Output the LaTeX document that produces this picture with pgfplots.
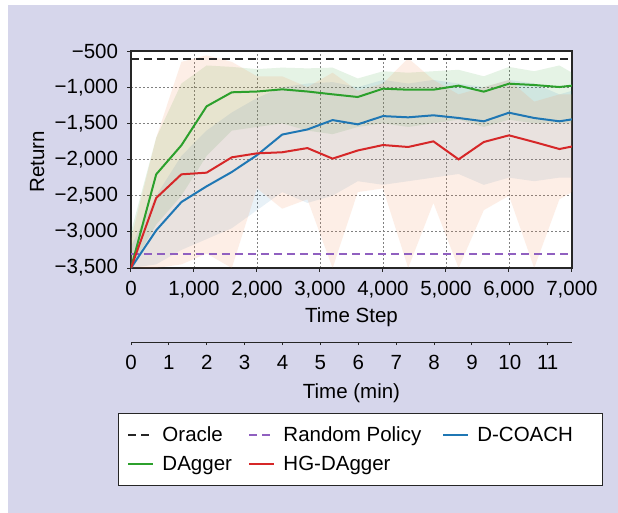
\documentclass[border=0pt]{standalone}
\usepackage{pgfplots}
\pgfplotsset{compat=1.18}
\usepackage{pgfplotstable}
\usepackage{fontspec}
\setmainfont{Liberation Sans}
\definecolor{lav}{HTML}{D6D6EB}
\definecolor{cblue}{HTML}{1F77B4}
\definecolor{cgreen}{HTML}{2CA02C}
\definecolor{cred}{HTML}{D62728}
\definecolor{cpurp}{HTML}{9060C0}
\definecolor{cpeach}{HTML}{F5894F}
\newcommand{\fs}{\fontsize{20.5bp}{24bp}\selectfont}

% mean curves
\pgfplotstableread{
x    g      b      r
0    -3500  -3500  -3500
400  -2205  -2979  -2532
800  -1804  -2588  -2205
1200 -1265  -2371  -2182
1600 -1071  -2173  -1970
2000 -1060  -1940  -1915
2400 -1030  -1655  -1900
2800 -1060  -1585  -1842
3200 -1099  -1455  -1988
3600 -1136  -1514  -1875
4000 -1021  -1400  -1800
4400 -1035  -1417  -1827
4800 -1035  -1389  -1749
5200 -979   -1426  -1998
5600 -1062  -1472  -1758
6000 -952   -1353  -1666
6400 -970   -1426  -1758
6800 -998   -1472  -1855
7000 -979   -1445  -1820
}\data

% spread bands (upper edge forward, lower edge backward)
\pgfplotstableread{
x y
0 -3000
400 -1700
800 -950
1200 -700
1600 -720
2000 -750
2400 -730
2800 -740
3200 -730
3600 -880
4000 -780
4400 -800
4800 -780
5200 -760
5600 -850
6000 -720
6400 -780
6800 -700
7000 -800
7000 -1500
6800 -1500
6400 -1500
6000 -1450
5600 -1550
5200 -1450
4800 -1500
4400 -1550
4000 -1500
3600 -1550
3200 -1650
2800 -1600
2400 -1500
2000 -1550
1600 -1600
1200 -1950
800 -2500
400 -2900
0 -3500
}\gband

\pgfplotstableread{
x y
0 -3200
400 -2500
800 -1950
1200 -1600
1600 -1350
2000 -1150
2400 -1000
2800 -950
3200 -930
3600 -1000
4000 -900
4400 -950
4800 -900
5200 -950
5600 -1000
6000 -900
6400 -950
6800 -1100
7000 -1050
7000 -2250
6800 -2250
6400 -2300
6000 -2250
5600 -2350
5200 -2200
4800 -2250
4400 -2300
4000 -2350
3600 -2300
3200 -2500
2800 -2600
2400 -2450
2000 -2700
1600 -2950
1200 -3100
800 -3250
400 -3450
0 -3500
}\bband

\pgfplotstableread{
x y
0 -3100
400 -1700
800 -650
1200 -560
1600 -650
2000 -850
2400 -850
2800 -1000
3200 -800
3600 -1050
4000 -950
4400 -600
4800 -900
5200 -1100
5600 -1000
6000 -900
6400 -1200
6800 -1100
7000 -1100
7000 -2450
6800 -2550
6400 -3500
6000 -2500
5600 -2700
5200 -3500
4800 -2600
4400 -3500
4000 -2400
3600 -2450
3200 -3500
2800 -2550
2400 -2680
2000 -2400
1600 -3500
1200 -3300
800 -3450
400 -3500
0 -3500
}\rband

\begin{document}
\begin{tikzpicture}
\fill[white] (-131bp,268bp) rectangle (487bp,-245bp);
\fill[lav] (-123bp,263bp) rectangle (487bp,-245bp);
\begin{axis}[
  at={(0,0)}, anchor=south west,
  scale only axis, width=441bp, height=217bp,
  xmin=0, xmax=7000, ymin=-3500, ymax=-500,
  font=\fs,
  axis background/.style={fill=white},
  xtick={0,1000,...,7000},
  xticklabels={0,{1,000},{2,000},{3,000},{4,000},{5,000},{6,000},{7,000}},
  ytick={-3500,-3000,...,-500},
  yticklabels={{−3,500},{−3,000},{−2,500},{−2,000},{−1,500},{−1,000},{−500}},
  xticklabel style={yshift=-6bp},
  yticklabel style={xshift=-6bp},
  tick pos=left, tick align=outside, major tick length=3.5bp,
  tick style={black!85, line width=1bp},
  axis line style={black!85, line width=1.3bp},
  grid=major,
  major grid style={gray, line width=0.9bp, dash pattern=on 2bp off 2bp},
  xlabel={Time Step}, ylabel={Return},
  xlabel style={at={(axis description cs:0.5,-0.226)}, anchor=center},
  ylabel style={at={(axis description cs:-0.213,0.49)}, anchor=center},
  legend columns=3,
  legend cell align=left,
  legend image code/.code={\draw[#1] (0bp,0bp) -- (25bp,0bp);},
  legend style={at={(axis description cs:-0.0295,-0.668)}, anchor=north west,
    draw=black!85, line width=1bp, fill=white, font=\fs,
    inner xsep=9bp, inner ysep=11bp, row sep=7.5bp,
    nodes={text height=15bp, text depth=2.5bp},
    /tikz/every odd column/.append style={column sep=6bp},
    /tikz/every even column/.append style={column sep=14.5bp}},
]
\addplot[fill=cgreen, fill opacity=0.12, draw=none, forget plot] table[x=x,y=y]{\gband};
\addplot[fill=cblue, fill opacity=0.10, draw=none, forget plot] table[x=x,y=y]{\bband};
\addplot[fill=cpeach, fill opacity=0.14, draw=none, forget plot] table[x=x,y=y]{\rband};

\addplot[draw=black!85, line width=1.8bp, dash pattern=on 8bp off 5bp] coordinates {(0,-610) (7000,-610)};
\addlegendentry{Oracle}
\addplot[draw=cpurp, line width=2bp, dash pattern=on 8bp off 5bp] coordinates {(0,-3300) (7000,-3300)};
\addlegendentry{Random Policy\hspace*{4.5bp}}
\addplot[cblue, line width=2bp] table[x=x,y=b]{\data};
\addlegendentry{D-COACH\hspace*{19bp}}
\addplot[cgreen, line width=2bp] table[x=x,y=g]{\data};
\addlegendentry{DAgger}
\addplot[cred, line width=2bp] table[x=x,y=r]{\data};
\addlegendentry{HG-DAgger}
\end{axis}

\begin{axis}[
  at={(0,-74bp)}, anchor=south west,
  scale only axis, width=441bp, height=1bp,
  xmin=0, xmax=11.64, ymin=0, ymax=1,
  font=\fs,
  /pgf/number format/assume math mode=true,
  hide y axis,
  axis x line*=bottom,
  x axis line style={-, black!85, line width=1bp},
  xtick={0,1,...,11},
  xticklabel style={yshift=-7bp},
  xlabel style={yshift=-7bp},
  tick align=outside, major tick length=3bp,
  tick style={black!85, line width=1bp},
  xlabel={Time (min)},
]
\end{axis}
\end{tikzpicture}
\end{document}
